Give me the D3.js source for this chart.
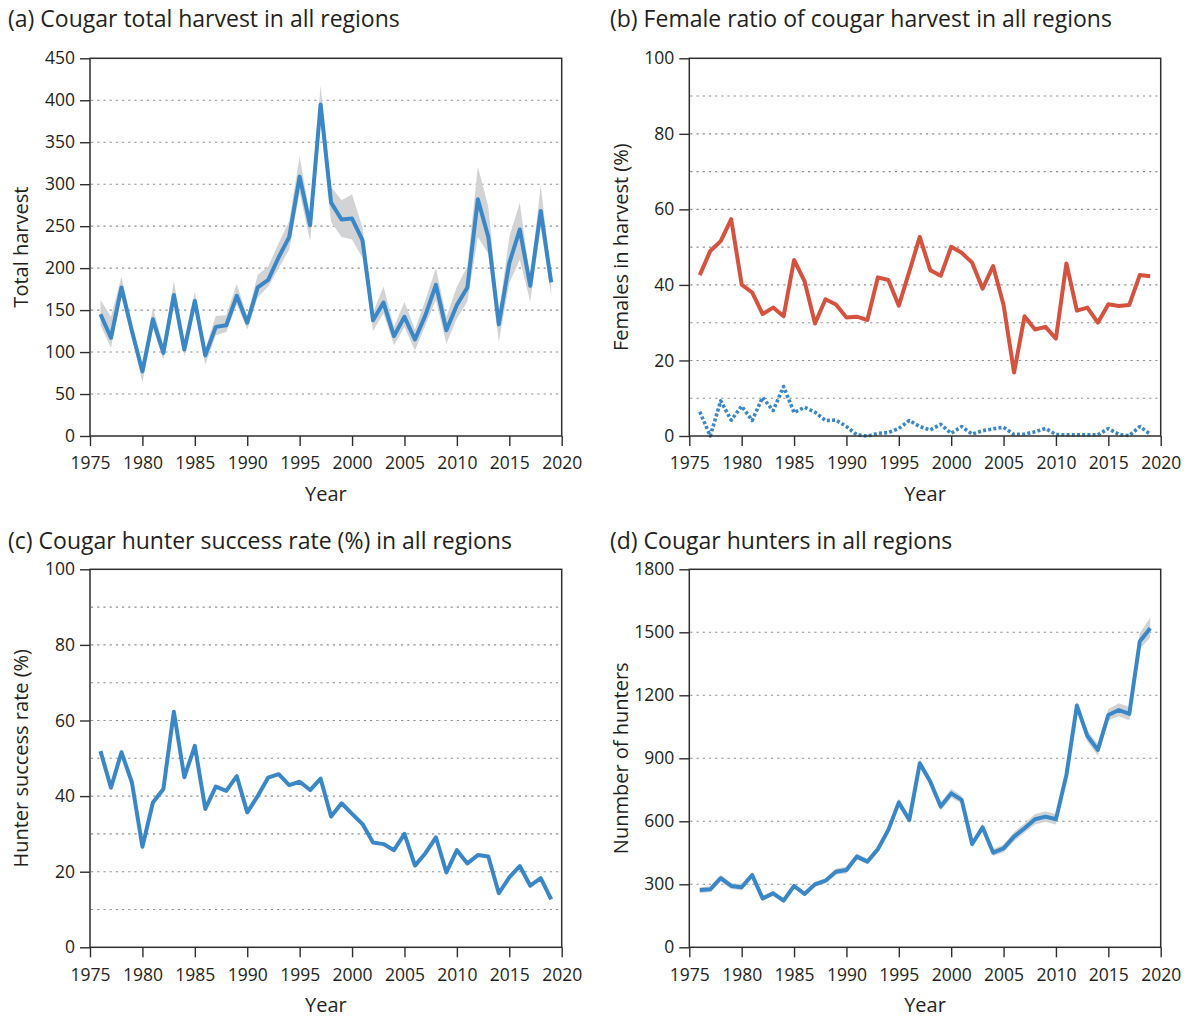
<!DOCTYPE html>
<html>
<head>
<meta charset="utf-8">
<script src="https://cdn.jsdelivr.net/npm/d3@7"></script>
<style>
  html, body { margin: 0; padding: 0; background: #fff; }
  svg { display: block; font-family: "Open Sans", "Noto Sans", sans-serif; }
</style>
</head>
<body>
<svg id="chart" width="1203" height="1018"></svg>
<script>
// ---------------- DATA ----------------
const years = d3.range(1976, 2020);

const harvest    = [145,117,177,125,77,139,99,168,103,161,96,130,132,167,135,177,186,213,237,309,251,395,278,258,259,233,138,159,119,142,115,144,180,126,156,177,282,237,133,206,246,179,268,183];
const harvestLo  = [132,105,166,117,64,128,91,158,95,151,85,120,124,157,127,165,178,200,222,290,232,378,255,237,234,212,125,146,108,130,102,132,162,110,140,160,237,217,112,182,210,160,249,167];
const harvestHi  = [162,142,190,133,82,153,108,185,113,172,104,143,144,181,143,192,202,230,256,333,262,418,297,281,288,248,147,178,130,160,127,162,200,142,178,202,321,273,146,237,278,188,299,189];

const femaleRatio    = [42.6,49.0,51.6,57.4,40.1,38.0,32.3,34.0,31.7,46.6,41.0,29.8,36.2,34.8,31.4,31.6,30.7,42.0,41.3,34.5,43.5,52.7,43.9,42.4,50.1,48.5,45.9,39.0,45.0,34.7,16.8,31.7,28.2,28.9,25.8,45.7,33.2,34.0,30.0,34.9,34.4,34.7,42.6,42.3];
const femaleRatioAlt = [6.4,0.0,9.3,4.2,7.9,4.1,10.2,6.7,13.1,6.2,7.6,6.3,4.1,4.2,2.5,0.3,0.0,0.7,0.9,2.0,4.1,2.5,1.6,3.1,0.7,2.5,0.5,1.4,1.9,2.3,0.4,0.5,1.1,2.0,0.4,0.3,0.3,0.3,0.3,2.0,0.4,0.1,2.5,0.5];

const successRate = [51.9,42.2,51.6,43.6,26.6,38.3,41.9,62.3,45.0,53.3,36.6,42.5,41.4,45.3,35.7,40.0,44.9,45.8,42.9,43.8,41.6,44.6,34.6,38.1,35.3,32.6,27.7,27.3,25.7,30.0,21.6,24.9,29.1,19.8,25.7,22.2,24.4,24.0,14.3,18.5,21.5,16.3,18.3,12.7];

const hunters   = [273,276,329,292,286,344,233,257,222,292,254,300,317,360,368,432,408,467,559,690,606,876,789,670,733,702,492,571,451,471,527,567,610,622,610,821,1151,1006,940,1106,1130,1111,1456,1519];
const huntersLo = [258,262,315,278,270,330,222,245,212,280,243,288,305,347,352,418,395,452,542,672,590,858,770,652,712,685,475,555,435,452,505,545,585,597,585,800,1128,980,912,1080,1100,1080,1420,1475];
const huntersHi = [285,290,345,305,302,358,245,268,233,303,265,312,328,375,383,447,422,482,575,708,622,894,808,688,755,720,508,588,468,490,548,590,635,647,635,842,1172,1032,968,1135,1162,1145,1495,1570];

const xTicks = [1975,1980,1985,1990,1995,2000,2005,2010,2015,2020];
const yTicksA = [0,50,100,150,200,250,300,350,400,450];
const gridA   = [50,100,150,200,250,300,350,400];
const yTicksPct = [0,20,40,60,80,100];
const gridPct   = [10,20,30,40,50,60,70,80,90];
const yTicksD = [0,300,600,900,1200,1500,1800];
const gridD   = [300,600,900,1200,1500];

const titles = [
  "(a) Cougar total harvest in all regions",
  "(b) Female ratio of cougar harvest in all regions",
  "(c) Cougar hunter success rate (%) in all regions",
  "(d) Cougar hunters in all regions"
];
const yLabels = ["Total harvest", "Females in harvest (%)", "Hunter success rate (%)", "Nunmber of hunters"];

// ---------------- STYLE ----------------
const BLUE = "#3a87c8", RED = "#d5523f", BAND = "#d2d3d5", AXIS = "#2e2e2e", TEXT = "#231f20";
const svg = d3.select("#chart");

function panel(cfg) {
  const {left, right, top, bottom, yMax, yTicks, grid, title, titleX, titleY, ylab, ylabX} = cfg;
  const x = d3.scaleLinear().domain([1975, 2020]).range([left, right]);
  const y = d3.scaleLinear().domain([0, yMax]).range([bottom, top]);
  const g = svg.append("g");

  // grid
  g.append("g").selectAll("line").data(grid).join("line")
    .attr("x1", left + 1).attr("x2", right)
    .attr("y1", d => y(d)).attr("y2", d => y(d))
    .attr("stroke", "#8f8f8f").attr("stroke-width", 1.1)
    .attr("stroke-dasharray", "2.2,4");

  // band
  if (cfg.lo) {
    const area = d3.area().x((d, i) => x(years[i])).y0((d, i) => y(cfg.lo[i])).y1((d, i) => y(cfg.hi[i]));
    g.append("path").datum(years).attr("d", area).attr("fill", BAND);
  }
  // lines
  cfg.series.forEach(s => {
    const line = d3.line().x((d, i) => x(years[i])).y(d => y(d));
    g.append("path").datum(s.values).attr("d", line)
      .attr("fill", "none").attr("stroke", s.color).attr("stroke-width", s.width || 4)
      .attr("stroke-linejoin", "round")
      .attr("stroke-dasharray", s.dash || null);
  });

  // frame
  g.append("rect").attr("x", left).attr("y", top)
    .attr("width", right - left).attr("height", bottom - top)
    .attr("fill", "none").attr("stroke", AXIS).attr("stroke-width", 1.5);

  // axes
  const ax = g.append("g").attr("transform", `translate(0,${bottom})`)
    .call(d3.axisBottom(x).tickValues(xTicks).tickFormat(d3.format("d")).tickSize(10).tickPadding(11));
  const ay = g.append("g").attr("transform", `translate(${left},0)`)
    .call(d3.axisLeft(y).tickValues(yTicks).tickFormat(d3.format("d")).tickSize(10).tickPadding(5));
  [ax, ay].forEach(a => {
    a.select(".domain").remove();
    a.selectAll(".tick line").attr("stroke", AXIS).attr("stroke-width", 1.4);
    a.selectAll(".tick text").attr("fill", TEXT).style("font-size", "17.5px")
      .style("font-family", '"Open Sans", sans-serif');
  });

  // titles
  svg.append("text").attr("x", titleX).attr("y", titleY)
    .attr("fill", TEXT).style("font-size", "23px").text(title);
  svg.append("text").attr("x", (left + right) / 2).attr("y", bottom + 65)
    .attr("text-anchor", "middle").attr("fill", TEXT).style("font-size", "20px").text("Year");
  svg.append("text")
    .attr("transform", `translate(${ylabX},${(top + bottom) / 2}) rotate(-90)`)
    .attr("text-anchor", "middle").attr("fill", TEXT).style("font-size", "20px").text(ylab);
}

panel({left: 90, right: 561.7, top: 58.3, bottom: 436, yMax: 450, yTicks: yTicksA, grid: gridA,
  title: titles[0], titleX: 8, titleY: 26.5, ylab: yLabels[0], ylabX: 28,
  lo: harvestLo, hi: harvestHi, series: [{values: harvest, color: BLUE}]});

panel({left: 689.3, right: 1160.7, top: 58.3, bottom: 436, yMax: 100, yTicks: yTicksPct, grid: gridPct,
  title: titles[1], titleX: 610, titleY: 26.5, ylab: yLabels[1], ylabX: 628,
  series: [{values: femaleRatio, color: RED}, {values: femaleRatioAlt, color: BLUE, dash: "3,2.2", width: 3.6}]});

panel({left: 90, right: 561.7, top: 569.3, bottom: 947.3, yMax: 100, yTicks: yTicksPct, grid: gridPct,
  title: titles[2], titleX: 8, titleY: 549, ylab: yLabels[2], ylabX: 28,
  series: [{values: successRate, color: BLUE}]});

panel({left: 689.3, right: 1160.7, top: 569.3, bottom: 947.3, yMax: 1800, yTicks: yTicksD, grid: gridD,
  title: titles[3], titleX: 610, titleY: 549, ylab: yLabels[3], ylabX: 628,
  lo: huntersLo, hi: huntersHi, series: [{values: hunters, color: BLUE}]});
</script>
</body>
</html>
